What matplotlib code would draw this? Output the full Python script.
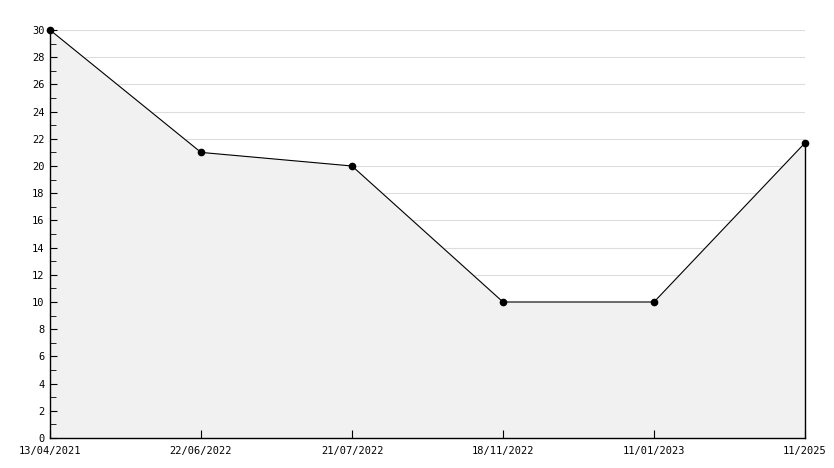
import matplotlib
matplotlib.use('Agg')
import matplotlib.pyplot as plt
from matplotlib.ticker import MultipleLocator

dates = ["13/04/2021", "22/06/2022", "21/07/2022", "18/11/2022", "11/01/2023", "11/2025"]
values = [30, 21, 20, 10, 10, 21.7]

plt.rcParams['font.family'] = 'DejaVu Sans Mono'

fig = plt.figure(figsize=(8.34, 4.68), dpi=100)
ax = fig.add_axes([50/834, 1 - 438/468, 755/834, 408/468])

x = list(range(len(dates)))
# grid lines behind the filled area
for g in range(2, 31, 2):
    ax.axhline(g, color='#dddddd', lw=0.8, zorder=0.5)
ax.fill_between(x, values, 0, color='#f1f1f1', zorder=1)
ax.plot(x, values, color='black', lw=0.8, marker='o', ms=4.5, zorder=3, clip_on=False)
ax.plot([x[-1], x[-1]], [0, values[-1]], color='black', lw=1, zorder=3, clip_on=False)

ax.set_xlim(0, len(dates) - 1)
ax.set_ylim(0, 30)
ax.yaxis.set_major_locator(MultipleLocator(2))
ax.yaxis.set_minor_locator(MultipleLocator(1))
ax.set_xticks(x)
ax.set_xticklabels(dates)

for s in ['top', 'right']:
    ax.spines[s].set_visible(False)
ax.spines['left'].set_linewidth(1)
ax.spines['bottom'].set_linewidth(1)

ax.tick_params(axis='y', which='major', direction='in', length=5, labelsize=7.5, pad=4)
ax.tick_params(axis='y', which='minor', direction='in', length=4)
ax.tick_params(axis='x', direction='in', length=6, labelsize=7.5, pad=6)

fig.savefig('out.png', dpi=100)
